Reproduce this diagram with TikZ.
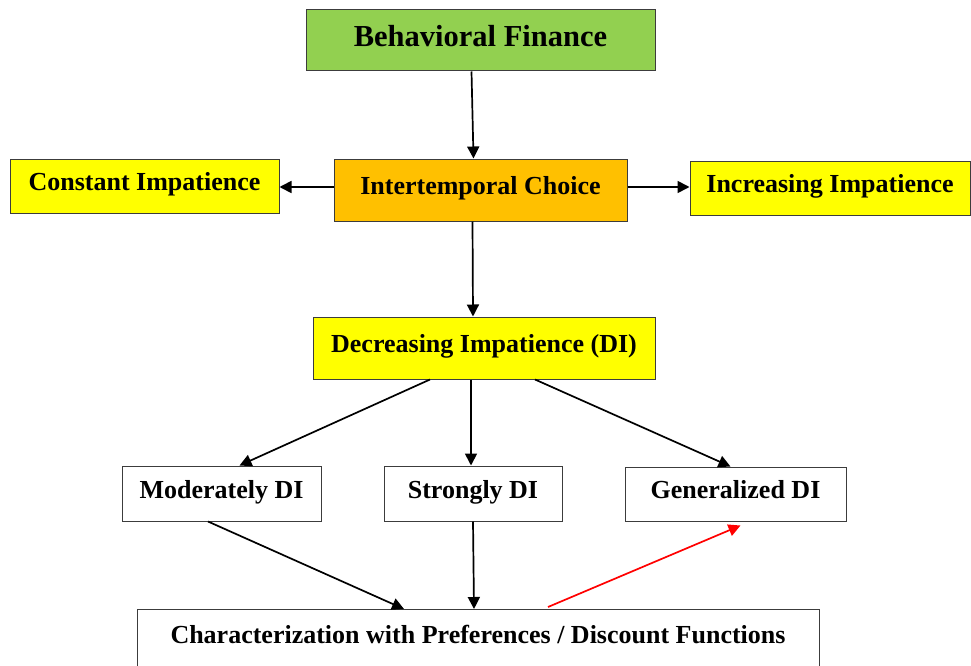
\documentclass[tikz,border=0pt]{standalone}
\usepackage{fontspec}
\setmainfont{Liberation Serif}
\usetikzlibrary{arrows.meta,calc}
\usepackage{xcolor}
\definecolor{bfGreen}{RGB}{146,208,80}
\definecolor{bfOrange}{RGB}{255,192,0}
\definecolor{bfYellow}{RGB}{255,255,0}
\definecolor{bfBorder}{RGB}{60,60,60}
\definecolor{bfRed}{RGB}{255,0,0}

\begin{document}
\begin{tikzpicture}[x=1pt,y=-1pt,
      box/.style={draw=bfBorder, line width=1pt, fill=white, inner sep=0pt,
                  align=center, text depth=9pt,
                  font=\fontsize{26}{30}\selectfont\bfseries},
      arr/.style={-{Triangle[length=12pt,width=12pt]}, black, line width=1.7pt},
      redarr/.style={arr, bfRed}
    ]
    \useasboundingbox (0,0) rectangle (971,666);

    \node[box,fill=bfGreen,minimum width=349pt,minimum height=61pt,
          font=\fontsize{30.5}{34}\selectfont\bfseries] (bf) at (480.5,40.5) {Behavioral Finance};
    \node[box,fill=bfOrange,minimum width=293pt,minimum height=62pt] (ic) at (480.5,190) {Intertemporal Choice};
    \node[box,fill=bfYellow,minimum width=269pt,minimum height=54pt] (ci) at (144.5,186) {Constant Impatience};
    \node[box,fill=bfYellow,minimum width=280pt,minimum height=54pt] (ii) at (830,188) {Increasing Impatience};
    \node[box,fill=bfYellow,minimum width=342pt,minimum height=62pt] (di) at (484,348) {Decreasing Impatience (DI)};

    \node[box,minimum width=199pt,minimum height=55pt] (mdi) at (221.5,493.5) {Moderately DI};
    \node[box,minimum width=178pt,minimum height=55pt] (sdi) at (473,493.5) {Strongly DI};
    \node[box,minimum width=221pt,minimum height=54pt] (gdi) at (735.5,494) {Generalized DI};

    % bottom box runs off the page
    \node[box,anchor=north,minimum width=682pt,inner ysep=8pt,
          text height=26pt,text depth=60pt] (char) at (478,609)
          {Characterization with Preferences / Discount Functions};

    \draw[arr] ([xshift=-9pt]bf.south) -- ([xshift=-7pt]ic.north);
    \draw[arr] ([yshift=3pt]ic.west) -- ([yshift=-1pt]ci.east);
    \draw[arr] ([yshift=3pt]ic.east) -- ([yshift=1pt]ii.west);
    \draw[arr] ([xshift=-8pt]ic.south) -- ([xshift=-11pt]di.north);

    \draw[arr] ([xshift=-54pt]di.south) -- ([xshift=18pt]mdi.north);
    \draw[arr] ([xshift=-13pt]di.south) -- ([xshift=-2pt]sdi.north);
    \draw[arr] ([xshift=51pt]di.south) -- ([xshift=-5pt]gdi.north);

    \draw[arr] ([xshift=-13.5pt]mdi.south) -- ([xshift=-74pt]char.north);
    \draw[arr] (sdi.south) -- ([xshift=-4pt]char.north);
    \draw[redarr] ([xshift=70pt,yshift=2pt]char.north) -- ([xshift=5pt,yshift=-4pt]gdi.south);
  \end{tikzpicture}
\end{document}
